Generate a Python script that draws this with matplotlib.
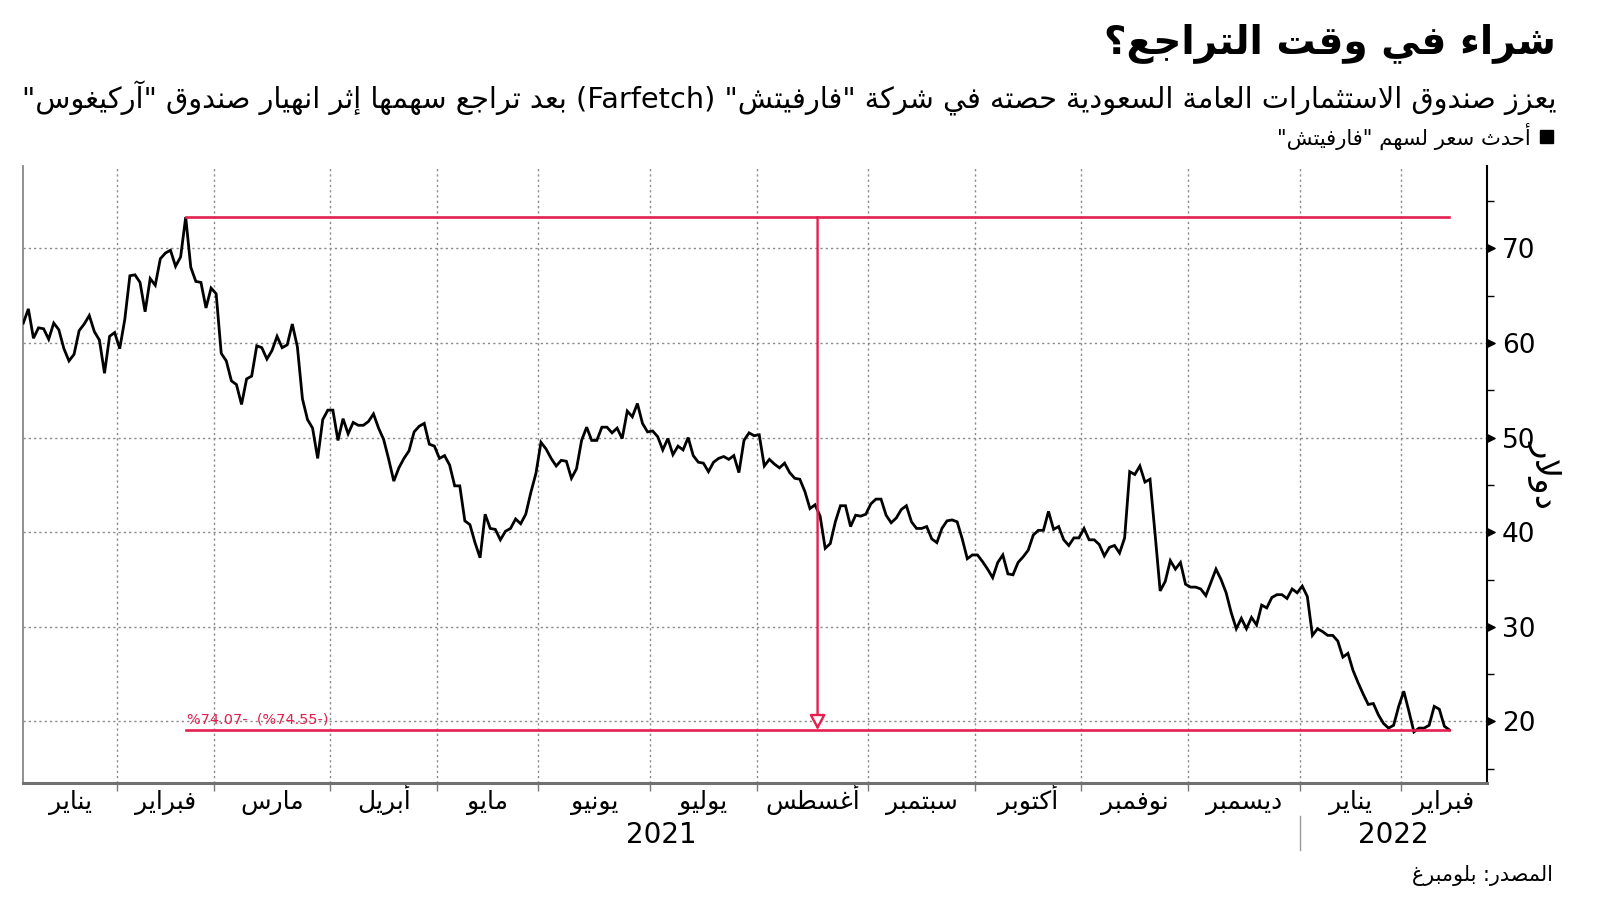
import re
import numpy as np
import pandas as pd
import matplotlib
matplotlib.use("Agg")
import matplotlib.pyplot as plt
from matplotlib.transforms import blended_transform_factory
from matplotlib.path import Path
from matplotlib.ticker import MultipleLocator

# ---------------- data ----------------
prices = [
    62.1, 63.6, 60.5, 61.6, 61.5, 60.4, 62.1, 61.4, 59.4, 58.1, 58.8, 61.3, 62.0, 62.9, 61.2,
    60.3, 56.8, 60.7, 61.1, 59.4, 62.5, 67.1, 67.2, 66.4, 63.3, 66.8, 66.1, 68.9, 69.5, 69.8,
    68.1, 69.1, 73.3, 68.0, 66.5, 66.4, 63.7, 65.8, 65.2, 58.9, 58.1, 56.0, 55.6, 53.5, 56.2,
    56.5, 59.7, 59.5, 58.3, 59.2, 60.7, 59.5, 59.8, 62.0, 59.6, 54.1, 51.9, 51.0, 47.8, 51.9,
    52.9, 52.9, 49.7, 52.0, 50.4, 51.6, 51.3, 51.3, 51.7, 52.5, 51.0, 49.8, 47.7, 45.4, 46.8,
    47.8, 48.6, 50.6, 51.2, 51.5, 49.3, 49.1, 47.8, 48.1, 47.1, 44.9, 44.9, 41.2, 40.8, 38.9,
    37.3, 41.9, 40.4, 40.3, 39.2, 40.1, 40.4, 41.4, 40.9, 41.9, 44.2, 46.2, 49.5, 48.8, 47.8,
    47.0, 47.6, 47.5, 45.7, 46.7, 49.7, 51.1, 49.7, 49.7, 51.1, 51.1, 50.5, 51.0, 49.9, 52.8,
    52.2, 53.6, 51.5, 50.6, 50.7, 50.1, 48.7, 49.9, 48.2, 49.1, 48.7, 50.0, 48.1, 47.4, 47.3,
    46.4, 47.4, 47.8, 48.0, 47.7, 48.1, 46.3, 49.7, 50.5, 50.2, 50.3, 47.0, 47.7, 47.2, 46.8,
    47.3,
    46.3, 45.7, 45.6, 44.3, 42.5, 42.9, 41.7, 38.3, 38.8, 41.1, 42.8, 42.8, 40.6, 41.8, 41.7,
    41.9, 43.0, 43.5, 43.5, 41.8, 41.0, 41.5, 42.4, 42.8, 41.1, 40.4, 40.4, 40.6, 39.3, 38.9,
    40.4, 41.2, 41.3, 41.1, 39.3, 37.2, 37.6, 37.6, 36.9, 36.1, 35.2, 36.8, 37.6, 35.6, 35.5,
    36.8, 37.4, 38.1, 39.7, 40.2, 40.2, 42.2, 40.3, 40.6, 39.2, 38.6, 39.4, 39.4, 40.4, 39.2,
    39.2, 38.7, 37.5, 38.4, 38.6, 37.8, 39.4, 46.4, 46.1, 47.0, 45.3, 45.6, 39.8,
    33.8, 34.8, 37.0, 36.1, 36.8, 34.5, 34.2, 34.2, 34.0, 33.3, 34.7, 36.1, 35.0, 33.6, 31.5,
    29.8, 30.9, 29.8, 31.0, 30.2, 32.3, 32.0, 33.1, 33.4, 33.4, 33.0, 34.0, 33.6, 34.3, 33.2,
    29.1, 29.8, 29.5, 29.1, 29.1, 28.5, 26.8, 27.2, 25.4, 24.1, 22.9, 21.8, 21.9, 20.7, 19.8,
    19.3, 19.6, 21.6, 23.2, 21.1, 18.9, 19.3, 19.3, 19.6, 21.6, 21.3, 19.5, 19.1,
]
market_holidays = ["2021-01-18", "2021-02-15", "2021-04-02", "2021-05-31", "2021-07-05",
                   "2021-09-06", "2021-11-25", "2021-12-24", "2022-01-17", "2022-02-21"]
first_day = "2021-01-04"
axis_end_day = "2022-02-24"
month_names = ["يناير", "فبراير", "مارس", "أبريل", "مايو", "يونيو", "يوليو",
               "أغسطس", "سبتمبر", "أكتوبر", "نوفمبر", "ديسمبر"]
y_ticks = [20, 30, 40, 50, 60, 70]
pct_label = "%74.07-  (%74.55-)"

title = "شراء في وقت التراجع؟"
subtitle = 'يعزز صندوق الاستثمارات العامة السعودية حصته في شركة "فارفيتش" (Farfetch) بعد تراجع سهمها إثر انهيار صندوق "آركيغوس"'
legend_label = 'أحدث سعر لسهم "فارفيتش"'
source = "المصدر: بلومبرغ"
y_label = "دولار"

# ---------------- simple Arabic shaping + visual ordering ----------------
DUAL = {'ئ': 0xFE89, 'ب': 0xFE8F, 'ت': 0xFE95, 'ث': 0xFE99, 'ج': 0xFE9D, 'ح': 0xFEA1,
        'خ': 0xFEA5, 'س': 0xFEB1, 'ش': 0xFEB5, 'ص': 0xFEB9, 'ض': 0xFEBD, 'ط': 0xFEC1,
        'ظ': 0xFEC5, 'ع': 0xFEC9, 'غ': 0xFECD, 'ف': 0xFED1, 'ق': 0xFED5, 'ك': 0xFED9,
        'ل': 0xFEDD, 'م': 0xFEE1, 'ن': 0xFEE5, 'ه': 0xFEE9, 'ي': 0xFEF1}
RIGHT = {'آ': 0xFE81, 'أ': 0xFE83, 'ؤ': 0xFE85, 'إ': 0xFE87, 'ا': 0xFE8D, 'ة': 0xFE93,
         'د': 0xFEA9, 'ذ': 0xFEAB, 'ر': 0xFEAD, 'ز': 0xFEAF, 'و': 0xFEED, 'ى': 0xFEEF}
NONJ = {'ء': 0xFE80}
LAMALEF = {'آ': 0xFEF5, 'أ': 0xFEF7, 'إ': 0xFEF9, 'ا': 0xFEFB}


def shape(s):
    out = []
    n = len(s)
    k = 0
    while k < n:
        c = s[k]
        if c not in DUAL and c not in RIGHT and c not in NONJ:
            out.append(c)
            k += 1
            continue
        prev = s[k - 1] if k > 0 else ''
        pj = prev in DUAL
        if c == 'ل' and k + 1 < n and s[k + 1] in LAMALEF:
            b = LAMALEF[s[k + 1]]
            out.append(chr(b + 1 if pj else b))
            k += 2
            continue
        nxt = s[k + 1] if k + 1 < n else ''
        nj = (c in DUAL) and (nxt in DUAL or nxt in RIGHT)
        if c in DUAL:
            b = DUAL[c]
            f = b + 3 if (pj and nj) else b + 1 if pj else b + 2 if nj else b
        elif c in RIGHT:
            b = RIGHT[c]
            f = b + 1 if pj else b
        else:
            f = NONJ[c]
        out.append(chr(f))
        k += 1
    return ''.join(out)


def ar(s):
    t = shape(s)[::-1]
    t = re.sub(r'[A-Za-z0-9][A-Za-z0-9.,%]*', lambda m: m.group(0)[::-1], t)
    return t.translate(str.maketrans('()', ')('))


# ---------------- dates / positions ----------------
dates = pd.bdate_range(first_day, "2022-12-31", freq="C", holidays=market_holidays)
dates = dates[:len(prices)]
x = np.arange(len(prices))
y = np.array(prices)
x_end = float(len(pd.bdate_range(first_day, axis_end_day, freq="C", holidays=market_holidays)) - 1) + 0.3

month_key = dates.year * 12 + dates.month
starts = [0] + [i for i in range(1, len(dates)) if month_key[i] != month_key[i - 1]]
bounds = [s - 0.5 for s in starts[1:]]

RED = "#e3204f"
GRID = "#8a8a8a"
AR_FONT = ["DejaVu Sans"]

W, H = 1600, 901
fig = plt.figure(figsize=(W / 100, H / 100), dpi=100)
L, R, B, T = 23.3, 1486.5, 783, 166
ax = fig.add_axes([L / W, (H - B) / H, (R - L) / W, (B - T) / H])

ax.set_xlim(0, x_end)
ax.set_ylim(13.5, 78.7)

# grid
for b in bounds:
    ax.axvline(b, color=GRID, lw=1.0, ls=(0, (1.6, 2.2)), zorder=1)
for t in y_ticks:
    ax.axhline(t, color=GRID, lw=1.0, ls=(0, (1.6, 2.2)), zorder=1)

# price line
ax.plot(x, y, color="black", lw=2.0, zorder=3, solid_joinstyle="miter")

# red annotation
i_peak = int(np.argmax(y))
peak = y[i_peak]
last = y[-1]
ax.plot([x[i_peak], x[-1]], [peak, peak], color=RED, lw=1.9, zorder=4)
ax.plot([x[i_peak], x[-1]], [last, last], color=RED, lw=1.9, zorder=4)
xm = (x[i_peak] + x[-1]) / 2
ax.annotate("", xy=(xm, last), xytext=(xm, peak),
            arrowprops=dict(arrowstyle="-|>,head_length=0.6,head_width=0.32", fc="white",
                            ec=RED, lw=1.7, shrinkA=0, shrinkB=0, mutation_scale=15),
            zorder=5)
pct = ax.annotate(pct_label, xy=(x[i_peak], last), xytext=(1, 4), textcoords="offset pixels",
                  color=RED, fontsize=10, ha="left", va="bottom",
                  family=["DejaVu Sans"], zorder=5)

# spines
ax.spines["top"].set_visible(False)
ax.spines["left"].set_color("#888888")
ax.spines["left"].set_linewidth(1.3)
ax.spines["bottom"].set_color("#707070")
ax.spines["bottom"].set_linewidth(2.2)
ax.spines["right"].set_color("black")
ax.spines["right"].set_linewidth(1.5)

# y axis on right
ax.yaxis.tick_right()
ax.set_yticks(y_ticks)
ax.set_yticklabels([str(t) for t in y_ticks])
ax.yaxis.set_minor_locator(MultipleLocator(5))
ax.tick_params(axis="y", which="major", length=0, pad=11, labelsize=19, labelcolor="black")
ax.tick_params(axis="y", which="minor", length=5, width=1.0, color="black", direction="out")
tri = Path([(0, -0.5), (1.0, 0), (0, 0.5), (0, -0.5)], [Path.MOVETO, Path.LINETO, Path.LINETO, Path.CLOSEPOLY])
ytr = blended_transform_factory(ax.transAxes, ax.transData)
ax.plot([1.0] * len(y_ticks), y_ticks, ls="none", marker=tri, markersize=11,
        color="black", transform=ytr, clip_on=False, zorder=6)

# x axis: month boundaries as ticks, month names centred on visible month spans
ax.set_xticks(bounds)
ax.set_xticklabels([""] * len(bounds))
ax.tick_params(axis="x", which="major", length=6, width=1.0, color="#777777", direction="out")
edges = [0] + bounds + [x_end]
mids, labs = [], []
for k in range(len(starts)):
    lo, hi = edges[k], min(edges[k + 1], x_end)
    mids.append((lo + hi) / 2)
    labs.append(ar(month_names[dates[starts[k]].month - 1]))
ax.set_xticks(mids, minor=True)
ax.set_xticklabels(labs, minor=True)
ax.tick_params(axis="x", which="minor", length=0, pad=19, labelsize=18)
for lab in ax.get_xticklabels(minor=True):
    lab.set_family(AR_FONT)
    lab.set_verticalalignment("baseline")

# year labels
xtr = blended_transform_factory(ax.transData, ax.transAxes)
years = sorted(set(dates.year))
yr_edges = []
for yr in years:
    idx = [i for i in range(len(dates)) if dates[i].year == yr]
    yr_edges.append((idx[0] - 0.5 if idx[0] > 0 else 0, idx[-1] + 0.5 if yr != years[-1] else x_end))
for yr, (lo, hi) in zip(years, yr_edges):
    ax.annotate(str(yr), xy=((lo + hi) / 2, 0), xycoords=xtr, xytext=(0, -52),
                textcoords="offset pixels", ha="center", va="center", fontsize=20,
                family=["DejaVu Sans"])
for lo, hi in yr_edges[1:]:
    ax.plot([lo, lo], [-0.054, -0.108], transform=xtr, color="#999999", lw=1.0, clip_on=False)

# y label
ylab = ax.text(1.0405, 0.50, ar(y_label), transform=ax.transAxes, ha="center", va="center",
               fontsize=14, family=AR_FONT)

# header texts
def fx(px):
    return px / W


def fy(py):
    return 1 - py / H


t_title = fig.text(fx(1556), fy(43), ar(title), ha="right", va="center", fontsize=30,
                   fontweight="bold", family=AR_FONT)
t_sub = fig.text(fx(1556), fy(98), ar(subtitle), ha="right", va="center", fontsize=20, family=AR_FONT)
t_leg = fig.text(fx(1531), fy(136), ar(legend_label), ha="right", va="center", fontsize=13, family=AR_FONT)
fig.patches.append(plt.Rectangle((fx(1540), fy(143)), 13 / W, 13 / H, transform=fig.transFigure,
                                 color="black"))
t_src = fig.text(fx(1553), fy(875), ar(source), ha="right", va="center", fontsize=14, family=AR_FONT)

renderer = fig.canvas.get_renderer()


def fit(t, target):
    w = t.get_window_extent(renderer).width
    t.set_fontsize(t.get_fontsize() * target / w)


fit(t_title, 451)
fit(t_sub, 1530)
fit(t_leg, 255)
fit(t_src, 142)
fit(pct, 140)
fit(ylab, 68)
ylab.set_rotation(270)

fig.savefig("out.png", dpi=100, facecolor="white")
